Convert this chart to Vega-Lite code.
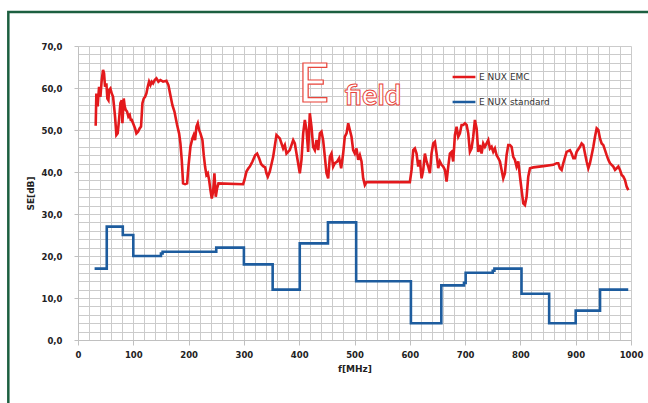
{
  "$schema": "https://vega.github.io/schema/vega-lite/v6.json",
  "width": 553,
  "height": 294,
  "autosize": {"type": "none"},
  "padding": {"left": 78, "top": 46, "right": 17, "bottom": 63},
  "background": "white",
  "config": {
    "view": {"stroke": null},
    "axis": {
      "grid": true,
      "gridColor": "#cbcbcb",
      "gridWidth": 1,
      "domainColor": "#c0c0c0",
      "tickColor": "#c0c0c0",
      "labelFont": "DejaVu Sans",
      "labelFontWeight": "bold",
      "labelFontSize": 8.5,
      "labelColor": "#222222",
      "titleFont": "DejaVu Sans",
      "titleFontWeight": "bold",
      "titleFontSize": 9,
      "titleColor": "#222222",
      "labelOverlap": false,
      "labelFlush": false
    }
  },
  "datasets": {
    "emc": [
      {"f":32,"se":51.0,"series":"E NUX EMC"},{"f":33.2,"se":58.7,"series":"E NUX EMC"},{"f":35.6,"se":55.6,"series":"E NUX EMC"},{"f":38.1,"se":60.3,"series":"E NUX EMC"},{"f":40.5,"se":57.9,"series":"E NUX EMC"},{"f":42.9,"se":61.9,"series":"E NUX EMC"},{"f":45.3,"se":64.3,"series":"E NUX EMC"},{"f":47.1,"se":63.5,"series":"E NUX EMC"},{"f":48.9,"se":60.3,"series":"E NUX EMC"},{"f":51.3,"se":61.1,"series":"E NUX EMC"},{"f":53.1,"se":57.5,"series":"E NUX EMC"},{"f":55.0,"se":57.1,"series":"E NUX EMC"},{"f":56.1,"se":59.5,"series":"E NUX EMC"},{"f":58.6,"se":59.9,"series":"E NUX EMC"},{"f":61.0,"se":58.7,"series":"E NUX EMC"},{"f":63.4,"se":57.9,"series":"E NUX EMC"},{"f":65.2,"se":55.6,"series":"E NUX EMC"},{"f":67.0,"se":53.2,"series":"E NUX EMC"},{"f":69.4,"se":48.8,"series":"E NUX EMC"},{"f":71.8,"se":49.2,"series":"E NUX EMC"},{"f":74.2,"se":52.4,"series":"E NUX EMC"},{"f":76.7,"se":56.4,"series":"E NUX EMC"},{"f":79.1,"se":57.1,"series":"E NUX EMC"},{"f":80.3,"se":51.6,"series":"E NUX EMC"},{"f":82.7,"se":57.5,"series":"E NUX EMC"},{"f":84.5,"se":55.6,"series":"E NUX EMC"},{"f":86.3,"se":54.8,"series":"E NUX EMC"},{"f":88.7,"se":54.4,"series":"E NUX EMC"},{"f":91.1,"se":53.2,"series":"E NUX EMC"},{"f":93.5,"se":53.6,"series":"E NUX EMC"},{"f":95.4,"se":52.4,"series":"E NUX EMC"},{"f":97.2,"se":52.4,"series":"E NUX EMC"},{"f":99.6,"se":51.6,"series":"E NUX EMC"},{"f":103.2,"se":50.4,"series":"E NUX EMC"},{"f":105.6,"se":49.2,"series":"E NUX EMC"},{"f":108.6,"se":49.6,"series":"E NUX EMC"},{"f":111.6,"se":50.4,"series":"E NUX EMC"},{"f":114.0,"se":50.8,"series":"E NUX EMC"},{"f":116.5,"se":56.4,"series":"E NUX EMC"},{"f":118.9,"se":57.5,"series":"E NUX EMC"},{"f":121.3,"se":57.9,"series":"E NUX EMC"},{"f":123.7,"se":58.7,"series":"E NUX EMC"},{"f":126.1,"se":60.3,"series":"E NUX EMC"},{"f":128.5,"se":61.5,"series":"E NUX EMC"},{"f":131.0,"se":60.7,"series":"E NUX EMC"},{"f":133.3,"se":61.5,"series":"E NUX EMC"},{"f":135.8,"se":61.1,"series":"E NUX EMC"},{"f":138.8,"se":61.9,"series":"E NUX EMC"},{"f":141.8,"se":62.3,"series":"E NUX EMC"},{"f":145.4,"se":61.5,"series":"E NUX EMC"},{"f":149.0,"se":61.9,"series":"E NUX EMC"},{"f":153.8,"se":61.5,"series":"E NUX EMC"},{"f":159.9,"se":61.7,"series":"E NUX EMC"},{"f":163.5,"se":60.7,"series":"E NUX EMC"},{"f":167.1,"se":58.3,"series":"E NUX EMC"},{"f":170.7,"se":55.9,"series":"E NUX EMC"},{"f":174.4,"se":54.4,"series":"E NUX EMC"},{"f":176.8,"se":52.8,"series":"E NUX EMC"},{"f":179.2,"se":51.2,"series":"E NUX EMC"},{"f":182.8,"se":49.2,"series":"E NUX EMC"},{"f":185.2,"se":46.8,"series":"E NUX EMC"},{"f":187.6,"se":42.9,"series":"E NUX EMC"},{"f":190.0,"se":37.3,"series":"E NUX EMC"},{"f":193.7,"se":37.1,"series":"E NUX EMC"},{"f":197.3,"se":37.3,"series":"E NUX EMC"},{"f":199.7,"se":41.3,"series":"E NUX EMC"},{"f":203.3,"se":46.0,"series":"E NUX EMC"},{"f":206.9,"se":48.0,"series":"E NUX EMC"},{"f":209.3,"se":48.8,"series":"E NUX EMC"},{"f":211.7,"se":47.6,"series":"E NUX EMC"},{"f":214.2,"se":50.8,"series":"E NUX EMC"},{"f":216.6,"se":51.6,"series":"E NUX EMC"},{"f":219.0,"se":50.0,"series":"E NUX EMC"},{"f":221.4,"se":49.2,"series":"E NUX EMC"},{"f":225.0,"se":47.6,"series":"E NUX EMC"},{"f":227.4,"se":44.0,"series":"E NUX EMC"},{"f":229.8,"se":41.3,"series":"E NUX EMC"},{"f":232.2,"se":39.3,"series":"E NUX EMC"},{"f":234.7,"se":39.7,"series":"E NUX EMC"},{"f":237.1,"se":38.1,"series":"E NUX EMC"},{"f":239.5,"se":35.7,"series":"E NUX EMC"},{"f":241.9,"se":33.7,"series":"E NUX EMC"},{"f":244.3,"se":35.3,"series":"E NUX EMC"},{"f":246.7,"se":39.7,"series":"E NUX EMC"},{"f":249.1,"se":34.1,"series":"E NUX EMC"},{"f":251.5,"se":36.1,"series":"E NUX EMC"},{"f":254.0,"se":37.3,"series":"E NUX EMC"},{"f":298.6,"se":37.1,"series":"E NUX EMC"},{"f":301.0,"se":38.1,"series":"E NUX EMC"},{"f":304.6,"se":40.1,"series":"E NUX EMC"},{"f":308.2,"se":40.9,"series":"E NUX EMC"},{"f":310.7,"se":41.3,"series":"E NUX EMC"},{"f":315.5,"se":42.5,"series":"E NUX EMC"},{"f":320.3,"se":44.0,"series":"E NUX EMC"},{"f":323.9,"se":44.4,"series":"E NUX EMC"},{"f":327.5,"se":43.3,"series":"E NUX EMC"},{"f":331.1,"se":41.9,"series":"E NUX EMC"},{"f":334.8,"se":41.4,"series":"E NUX EMC"},{"f":338.4,"se":41.1,"series":"E NUX EMC"},{"f":340.8,"se":39.7,"series":"E NUX EMC"},{"f":343.2,"se":38.9,"series":"E NUX EMC"},{"f":346.8,"se":40.1,"series":"E NUX EMC"},{"f":352.9,"se":43.6,"series":"E NUX EMC"},{"f":358.9,"se":48.8,"series":"E NUX EMC"},{"f":364.9,"se":48.0,"series":"E NUX EMC"},{"f":371.0,"se":45.6,"series":"E NUX EMC"},{"f":374.0,"se":46.4,"series":"E NUX EMC"},{"f":377.0,"se":44.4,"series":"E NUX EMC"},{"f":383.0,"se":45.2,"series":"E NUX EMC"},{"f":389.1,"se":47.6,"series":"E NUX EMC"},{"f":392.1,"se":46.8,"series":"E NUX EMC"},{"f":395.1,"se":44.4,"series":"E NUX EMC"},{"f":401.1,"se":39.7,"series":"E NUX EMC"},{"f":404.1,"se":42.9,"series":"E NUX EMC"},{"f":407.2,"se":49.2,"series":"E NUX EMC"},{"f":410.2,"se":52.4,"series":"E NUX EMC"},{"f":413.2,"se":50.0,"series":"E NUX EMC"},{"f":416.2,"se":44.8,"series":"E NUX EMC"},{"f":419.2,"se":54.0,"series":"E NUX EMC"},{"f":422.2,"se":50.8,"series":"E NUX EMC"},{"f":425.2,"se":46.0,"series":"E NUX EMC"},{"f":428.3,"se":45.2,"series":"E NUX EMC"},{"f":431.3,"se":47.6,"series":"E NUX EMC"},{"f":434.3,"se":45.2,"series":"E NUX EMC"},{"f":437.3,"se":49.2,"series":"E NUX EMC"},{"f":440.3,"se":49.6,"series":"E NUX EMC"},{"f":443.3,"se":47.6,"series":"E NUX EMC"},{"f":446.4,"se":43.6,"series":"E NUX EMC"},{"f":449.4,"se":39.7,"series":"E NUX EMC"},{"f":452.4,"se":38.5,"series":"E NUX EMC"},{"f":455.4,"se":43.6,"series":"E NUX EMC"},{"f":458.4,"se":44.4,"series":"E NUX EMC"},{"f":461.4,"se":41.3,"series":"E NUX EMC"},{"f":464.5,"se":42.1,"series":"E NUX EMC"},{"f":468.7,"se":42.5,"series":"E NUX EMC"},{"f":472.3,"se":43.3,"series":"E NUX EMC"},{"f":475.9,"se":40.9,"series":"E NUX EMC"},{"f":479.5,"se":44.4,"series":"E NUX EMC"},{"f":482.5,"se":48.4,"series":"E NUX EMC"},{"f":485.6,"se":49.2,"series":"E NUX EMC"},{"f":488.6,"se":51.6,"series":"E NUX EMC"},{"f":491.6,"se":50.0,"series":"E NUX EMC"},{"f":494.6,"se":48.4,"series":"E NUX EMC"},{"f":497.6,"se":45.2,"series":"E NUX EMC"},{"f":500.6,"se":44.4,"series":"E NUX EMC"},{"f":503.6,"se":45.6,"series":"E NUX EMC"},{"f":506.7,"se":42.9,"series":"E NUX EMC"},{"f":509.7,"se":44.0,"series":"E NUX EMC"},{"f":512.7,"se":42.5,"series":"E NUX EMC"},{"f":515.7,"se":38.5,"series":"E NUX EMC"},{"f":518.7,"se":36.9,"series":"E NUX EMC"},{"f":521.7,"se":37.6,"series":"E NUX EMC"},{"f":600.1,"se":37.6,"series":"E NUX EMC"},{"f":603.2,"se":40.5,"series":"E NUX EMC"},{"f":606.2,"se":45.2,"series":"E NUX EMC"},{"f":609.2,"se":45.6,"series":"E NUX EMC"},{"f":612.2,"se":44.4,"series":"E NUX EMC"},{"f":615.2,"se":41.3,"series":"E NUX EMC"},{"f":618.2,"se":42.9,"series":"E NUX EMC"},{"f":621.3,"se":38.5,"series":"E NUX EMC"},{"f":624.3,"se":40.5,"series":"E NUX EMC"},{"f":627.3,"se":44.4,"series":"E NUX EMC"},{"f":630.3,"se":42.5,"series":"E NUX EMC"},{"f":633.3,"se":41.3,"series":"E NUX EMC"},{"f":636.3,"se":39.7,"series":"E NUX EMC"},{"f":639.3,"se":44.4,"series":"E NUX EMC"},{"f":642.4,"se":46.8,"series":"E NUX EMC"},{"f":645.4,"se":47.2,"series":"E NUX EMC"},{"f":648.4,"se":44.4,"series":"E NUX EMC"},{"f":651.4,"se":40.9,"series":"E NUX EMC"},{"f":654.4,"se":42.5,"series":"E NUX EMC"},{"f":657.4,"se":41.7,"series":"E NUX EMC"},{"f":660.4,"se":41.3,"series":"E NUX EMC"},{"f":663.5,"se":40.5,"series":"E NUX EMC"},{"f":666.5,"se":37.7,"series":"E NUX EMC"},{"f":669.5,"se":41.3,"series":"E NUX EMC"},{"f":672.5,"se":44.4,"series":"E NUX EMC"},{"f":675.5,"se":44.8,"series":"E NUX EMC"},{"f":678.5,"se":42.5,"series":"E NUX EMC"},{"f":681.6,"se":48.8,"series":"E NUX EMC"},{"f":684.6,"se":50.8,"series":"E NUX EMC"},{"f":687.6,"se":48.4,"series":"E NUX EMC"},{"f":690.6,"se":49.2,"series":"E NUX EMC"},{"f":693.6,"se":51.2,"series":"E NUX EMC"},{"f":696.6,"se":51.2,"series":"E NUX EMC"},{"f":699.7,"se":51.6,"series":"E NUX EMC"},{"f":702.7,"se":51.2,"series":"E NUX EMC"},{"f":705.7,"se":49.2,"series":"E NUX EMC"},{"f":708.7,"se":44.8,"series":"E NUX EMC"},{"f":711.7,"se":45.6,"series":"E NUX EMC"},{"f":714.7,"se":48.4,"series":"E NUX EMC"},{"f":717.7,"se":52.4,"series":"E NUX EMC"},{"f":720.8,"se":50.4,"series":"E NUX EMC"},{"f":723.8,"se":44.8,"series":"E NUX EMC"},{"f":726.8,"se":46.4,"series":"E NUX EMC"},{"f":729.8,"se":44.4,"series":"E NUX EMC"},{"f":732.8,"se":46.8,"series":"E NUX EMC"},{"f":735.8,"se":46.0,"series":"E NUX EMC"},{"f":738.9,"se":46.8,"series":"E NUX EMC"},{"f":741.9,"se":47.6,"series":"E NUX EMC"},{"f":744.9,"se":45.6,"series":"E NUX EMC"},{"f":747.9,"se":46.0,"series":"E NUX EMC"},{"f":750.9,"se":44.8,"series":"E NUX EMC"},{"f":753.9,"se":45.6,"series":"E NUX EMC"},{"f":757.0,"se":44.0,"series":"E NUX EMC"},{"f":760.0,"se":43.3,"series":"E NUX EMC"},{"f":763.0,"se":42.5,"series":"E NUX EMC"},{"f":766.0,"se":40.5,"series":"E NUX EMC"},{"f":769.0,"se":38.5,"series":"E NUX EMC"},{"f":772.0,"se":39.7,"series":"E NUX EMC"},{"f":775.0,"se":44.0,"series":"E NUX EMC"},{"f":778.1,"se":46.4,"series":"E NUX EMC"},{"f":781.1,"se":46.4,"series":"E NUX EMC"},{"f":784.1,"se":46.0,"series":"E NUX EMC"},{"f":787.1,"se":43.6,"series":"E NUX EMC"},{"f":790.1,"se":42.9,"series":"E NUX EMC"},{"f":793.1,"se":41.3,"series":"E NUX EMC"},{"f":796.2,"se":42.5,"series":"E NUX EMC"},{"f":799.2,"se":38.9,"series":"E NUX EMC"},{"f":802.2,"se":35.7,"series":"E NUX EMC"},{"f":805.2,"se":32.5,"series":"E NUX EMC"},{"f":808.2,"se":32.1,"series":"E NUX EMC"},{"f":811.2,"se":34.1,"series":"E NUX EMC"},{"f":814.2,"se":38.9,"series":"E NUX EMC"},{"f":817.3,"se":40.9,"series":"E NUX EMC"},{"f":823.3,"se":41.1,"series":"E NUX EMC"},{"f":841.4,"se":41.4,"series":"E NUX EMC"},{"f":859.5,"se":41.7,"series":"E NUX EMC"},{"f":865.5,"se":42.1,"series":"E NUX EMC"},{"f":868.5,"se":42.1,"series":"E NUX EMC"},{"f":871.5,"se":40.9,"series":"E NUX EMC"},{"f":874.6,"se":40.5,"series":"E NUX EMC"},{"f":877.6,"se":42.1,"series":"E NUX EMC"},{"f":883.6,"se":44.8,"series":"E NUX EMC"},{"f":889.6,"se":45.2,"series":"E NUX EMC"},{"f":892.6,"se":44.4,"series":"E NUX EMC"},{"f":895.7,"se":43.3,"series":"E NUX EMC"},{"f":898.7,"se":43.3,"series":"E NUX EMC"},{"f":901.7,"se":44.8,"series":"E NUX EMC"},{"f":907.7,"se":46.0,"series":"E NUX EMC"},{"f":910.7,"se":46.8,"series":"E NUX EMC"},{"f":913.8,"se":46.4,"series":"E NUX EMC"},{"f":916.8,"se":44.4,"series":"E NUX EMC"},{"f":919.8,"se":42.5,"series":"E NUX EMC"},{"f":922.8,"se":40.9,"series":"E NUX EMC"},{"f":925.8,"se":42.1,"series":"E NUX EMC"},{"f":928.8,"se":44.0,"series":"E NUX EMC"},{"f":931.9,"se":46.0,"series":"E NUX EMC"},{"f":934.9,"se":48.4,"series":"E NUX EMC"},{"f":937.9,"se":50.4,"series":"E NUX EMC"},{"f":940.9,"se":50.0,"series":"E NUX EMC"},{"f":943.9,"se":48.0,"series":"E NUX EMC"},{"f":946.9,"se":46.8,"series":"E NUX EMC"},{"f":950.0,"se":46.4,"series":"E NUX EMC"},{"f":956.0,"se":44.0,"series":"E NUX EMC"},{"f":959.0,"se":42.9,"series":"E NUX EMC"},{"f":962.0,"se":42.1,"series":"E NUX EMC"},{"f":965.0,"se":41.7,"series":"E NUX EMC"},{"f":968.0,"se":41.3,"series":"E NUX EMC"},{"f":971.1,"se":40.5,"series":"E NUX EMC"},{"f":974.1,"se":40.9,"series":"E NUX EMC"},{"f":977.1,"se":41.3,"series":"E NUX EMC"},{"f":980.1,"se":40.5,"series":"E NUX EMC"},{"f":983.1,"se":39.3,"series":"E NUX EMC"},{"f":986.1,"se":38.9,"series":"E NUX EMC"},{"f":989.1,"se":38.1,"series":"E NUX EMC"},{"f":992.2,"se":36.5,"series":"E NUX EMC"},{"f":995.2,"se":35.7,"series":"E NUX EMC"}
    ],
    "std": [
      {"f":30,"se":17,"series":"E NUX standard"},{"f":52,"se":27,"series":"E NUX standard"},{"f":81,"se":25,"series":"E NUX standard"},{"f":100,"se":20,"series":"E NUX standard"},{"f":150,"se":20.6,"series":"E NUX standard"},{"f":153,"se":21,"series":"E NUX standard"},{"f":250,"se":22,"series":"E NUX standard"},{"f":300,"se":18,"series":"E NUX standard"},{"f":352,"se":12,"series":"E NUX standard"},{"f":401,"se":23,"series":"E NUX standard"},{"f":452,"se":28,"series":"E NUX standard"},{"f":503,"se":14,"series":"E NUX standard"},{"f":602,"se":4,"series":"E NUX standard"},{"f":657,"se":13,"series":"E NUX standard"},{"f":698,"se":13.6,"series":"E NUX standard"},{"f":701,"se":16,"series":"E NUX standard"},{"f":750,"se":16.5,"series":"E NUX standard"},{"f":753,"se":17,"series":"E NUX standard"},{"f":802,"se":11,"series":"E NUX standard"},{"f":852,"se":4,"series":"E NUX standard"},{"f":900,"se":7,"series":"E NUX standard"},{"f":944,"se":12,"series":"E NUX standard"},{"f":995,"se":12,"series":"E NUX standard"}
    ]
  },
  "layer": [
    {
      "data": {"values": [{}]},
      "mark": {"type": "rect", "fill": null, "fillOpacity": 0, "stroke": "#1c5f40", "strokeWidth": 2.5, "clip": false},
      "encoding": {
        "x": {"datum": -126, "type": "quantitative",
          "scale": {"domain": [0, 1000], "nice": false, "zero": false},
          "axis": {
            "values": [0,20,40,60,80,100,120,140,160,180,200,220,240,260,280,300,320,340,360,380,400,420,440,460,480,500,520,540,560,580,600,620,640,660,680,700,720,740,760,780,800,820,840,860,880,900,920,940,960,980,1000],
            "labelExpr": "datum.value % 100 === 0 ? format(datum.value, 'd') : ''",
            "tickOpacity": {"condition": {"test": "datum.value % 100 === 0", "value": 1}, "value": 0},
            "tickSize": 5, "labelPadding": 5, "title": "f[MHz]", "titlePadding": 6
          }
        },
        "x2": {"datum": 1150},
        "y": {"datum": 78.1, "type": "quantitative",
          "scale": {"domain": [0, 70], "nice": false, "zero": false},
          "axis": {
            "values": [0,2,4,6,8,10,12,14,16,18,20,22,24,26,28,30,32,34,36,38,40,42,44,46,48,50,52,54,56,58,60,62,64,66,68,70],
            "labelExpr": "datum.value % 10 === 0 ? replace(format(datum.value, '.1f'), '.', ',') : ''",
            "tickOpacity": {"condition": {"test": "datum.value % 10 === 0", "value": 1}, "value": 0},
            "tickSize": 4, "labelPadding": 12, "title": "SE[dB]", "titlePadding": 6
          }
        },
        "y2": {"datum": -40}
      }
    },
    {
      "data": {"values": [{}]},
      "mark": {"type": "text", "text": "E", "font": "Lato", "fontSize": 54, "fill": "white", "stroke": "#e8463c", "strokeWidth": 1.2, "align": "left", "baseline": "alphabetic"},
      "encoding": {
        "x": {"datum": 398, "type": "quantitative",
          "scale": {"domain": [0, 1000], "nice": false, "zero": false},
          "axis": {
            "values": [0,20,40,60,80,100,120,140,160,180,200,220,240,260,280,300,320,340,360,380,400,420,440,460,480,500,520,540,560,580,600,620,640,660,680,700,720,740,760,780,800,820,840,860,880,900,920,940,960,980,1000],
            "labelExpr": "datum.value % 100 === 0 ? format(datum.value, 'd') : ''",
            "tickOpacity": {"condition": {"test": "datum.value % 100 === 0", "value": 1}, "value": 0},
            "tickSize": 5, "labelPadding": 5, "title": "f[MHz]", "titlePadding": 6
          }
        },
        "y": {"datum": 56.6, "type": "quantitative",
          "scale": {"domain": [0, 70], "nice": false, "zero": false},
          "axis": {
            "values": [0,2,4,6,8,10,12,14,16,18,20,22,24,26,28,30,32,34,36,38,40,42,44,46,48,50,52,54,56,58,60,62,64,66,68,70],
            "labelExpr": "datum.value % 10 === 0 ? replace(format(datum.value, '.1f'), '.', ',') : ''",
            "tickOpacity": {"condition": {"test": "datum.value % 10 === 0", "value": 1}, "value": 0},
            "tickSize": 4, "labelPadding": 12, "title": "SE[dB]", "titlePadding": 6
          }
        }
      }
    },
    {
      "data": {"values": [{}]},
      "mark": {"type": "text", "text": "field", "font": "Lato", "fontWeight": "bold", "fontSize": 29, "fill": "white", "stroke": "#e8463c", "strokeWidth": 1, "align": "left", "baseline": "alphabetic"},
      "encoding": {
        "x": {"datum": 482, "type": "quantitative",
          "scale": {"domain": [0, 1000], "nice": false, "zero": false},
          "axis": {
            "values": [0,20,40,60,80,100,120,140,160,180,200,220,240,260,280,300,320,340,360,380,400,420,440,460,480,500,520,540,560,580,600,620,640,660,680,700,720,740,760,780,800,820,840,860,880,900,920,940,960,980,1000],
            "labelExpr": "datum.value % 100 === 0 ? format(datum.value, 'd') : ''",
            "tickOpacity": {"condition": {"test": "datum.value % 100 === 0", "value": 1}, "value": 0},
            "tickSize": 5, "labelPadding": 5, "title": "f[MHz]", "titlePadding": 6
          }
        },
        "y": {"datum": 56.0, "type": "quantitative",
          "scale": {"domain": [0, 70], "nice": false, "zero": false},
          "axis": {
            "values": [0,2,4,6,8,10,12,14,16,18,20,22,24,26,28,30,32,34,36,38,40,42,44,46,48,50,52,54,56,58,60,62,64,66,68,70],
            "labelExpr": "datum.value % 10 === 0 ? replace(format(datum.value, '.1f'), '.', ',') : ''",
            "tickOpacity": {"condition": {"test": "datum.value % 10 === 0", "value": 1}, "value": 0},
            "tickSize": 4, "labelPadding": 12, "title": "SE[dB]", "titlePadding": 6
          }
        }
      }
    },
    {
      "encoding": {
        "x": {
          "field": "f", "type": "quantitative",
          "scale": {"domain": [0, 1000], "nice": false, "zero": false},
          "axis": {
            "values": [0,20,40,60,80,100,120,140,160,180,200,220,240,260,280,300,320,340,360,380,400,420,440,460,480,500,520,540,560,580,600,620,640,660,680,700,720,740,760,780,800,820,840,860,880,900,920,940,960,980,1000],
            "labelExpr": "datum.value % 100 === 0 ? format(datum.value, 'd') : ''",
            "tickOpacity": {"condition": {"test": "datum.value % 100 === 0", "value": 1}, "value": 0},
            "tickSize": 5, "labelPadding": 5, "title": "f[MHz]", "titlePadding": 6
          }
        },
        "y": {
          "field": "se", "type": "quantitative",
          "scale": {"domain": [0, 70], "nice": false, "zero": false},
          "axis": {
            "values": [0,2,4,6,8,10,12,14,16,18,20,22,24,26,28,30,32,34,36,38,40,42,44,46,48,50,52,54,56,58,60,62,64,66,68,70],
            "labelExpr": "datum.value % 10 === 0 ? replace(format(datum.value, '.1f'), '.', ',') : ''",
            "tickOpacity": {"condition": {"test": "datum.value % 10 === 0", "value": 1}, "value": 0},
            "tickSize": 4, "labelPadding": 12, "title": "SE[dB]", "titlePadding": 6
          }
        }
      },
      "layer": [
        {
          "data": {"name": "emc"},
          "mark": {"type": "line", "strokeWidth": 2.6, "interpolate": "linear"},
          "encoding": {
            "color": {
              "field": "series", "type": "nominal",
              "scale": {"domain": ["E NUX EMC", "E NUX standard"], "range": ["#e3191c", "#1d5c9e"]},
              "legend": {
                "title": null,
                "orient": "none",
                "legendX": 373,
                "legendY": 18,
                "symbolType": "stroke",
                "symbolSize": 520,
                "symbolStrokeWidth": 2.5,
                "labelFont": "DejaVu Sans",
                "labelFontSize": 9,
                "labelColor": "#333333",
                "labelOffset": 2,
                "rowPadding": 7
              }
            }
          }
        },
        {
          "data": {"name": "std"},
          "mark": {"type": "line", "strokeWidth": 2.6, "interpolate": "step-after"},
          "encoding": {
            "color": {"field": "series", "type": "nominal"}
          }
        }
      ]
    }
  ]
}
